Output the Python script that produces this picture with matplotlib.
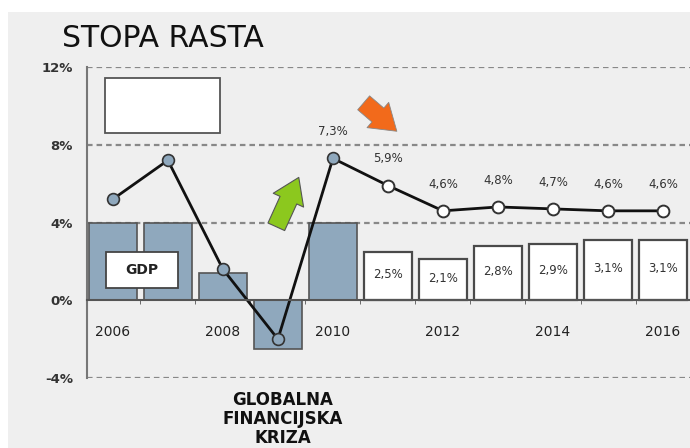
import matplotlib.pyplot as plt
from matplotlib.patches import Rectangle

# data
years = [2006, 2007, 2008, 2009, 2010, 2011, 2012, 2013, 2014, 2015, 2016]
gdp_growth = [4.0, 4.0, 1.4, -2.5, 3.95, 2.5, 2.1, 2.8, 2.9, 3.1, 3.1]
gdp_labels = ["", "", "", "", "", "2,5%", "2,1%", "2,8%", "2,9%", "3,1%", "3,1%"]
line_vals = [5.2, 7.2, 1.6, -2.0, 7.3, 5.9, 4.6, 4.8, 4.7, 4.6, 4.6]
line_labels = ["", "", "", "", "7,3%", "5,9%", "4,6%", "4,8%", "4,7%", "4,6%", "4,6%"]
n_actual = 5  # 2006-2010 actual, rest forecast
x_ticks = [2006, 2008, 2010, 2012, 2014, 2016]
y_ticks = [-4, 0, 4, 8, 12]

bg = "#efefef"
blue = "#8fa8bd"

fig = plt.figure(figsize=(6.9, 4.48), dpi=100)
fig.patch.set_facecolor("white")
fig.patches.append(Rectangle((8 / 690, 0), 1, 1 - 12 / 448, transform=fig.transFigure,
                             facecolor=bg, edgecolor="none", zorder=-10))

ax = fig.add_axes([87 / 690, 70 / 448, 1 - 87 / 690, 311 / 448])
ax.set_facecolor("none")
ax.set_xlim(2005.53, 2016.49)
ax.set_ylim(-4, 12)

# dashed grid lines
for y in [12, 8, 4, -4]:
    ax.axhline(y, color="#888888", lw=1.6, ls=(0, (2.5, 1.8)), zorder=1)

# bars
for i, (yr, v) in enumerate(zip(years, gdp_growth)):
    if i < n_actual:
        ax.bar(yr, v, width=0.86, color=blue, edgecolor="#555555", linewidth=1.2, zorder=2)
    else:
        ax.bar(yr, v, width=0.86, color="white", edgecolor="#4a4a4a", linewidth=1.6, zorder=2)
        ax.text(yr, v * 0.53, gdp_labels[i], ha="center", va="center", fontsize=8.5,
                color="#333333", zorder=5)

# line
ax.plot(years, line_vals, color="#111111", lw=2, zorder=3)
ax.plot(years[:n_actual], line_vals[:n_actual], ls="none", marker="o", ms=8.5,
        mfc=blue, mec="#333333", mew=1.2, zorder=4)
ax.plot(years[n_actual:], line_vals[n_actual:], ls="none", marker="o", ms=8.5,
        mfc="white", mec="#333333", mew=1.4, zorder=4)
for yr, v, lab in zip(years, line_vals, line_labels):
    if lab:
        ax.text(yr, v + 1.38, lab, ha="center", va="center", fontsize=8.5, color="#333333")

# spines / axes
for s in ["top", "right"]:
    ax.spines[s].set_visible(False)
ax.spines["bottom"].set_position(("data", 0))
ax.spines["bottom"].set_color("#555555")
ax.spines["bottom"].set_linewidth(1.5)
ax.spines["bottom"].set_zorder(3)
ax.spines["left"].set_color("#777777")
ax.spines["left"].set_linewidth(1.5)

ax.set_xticks(x_ticks)
ax.set_xticklabels([str(t) for t in x_ticks], fontsize=10, color="#222222")
ax.tick_params(axis="x", length=0, pad=18)
ax.set_xticks([y + 0.5 for y in years[:-1]], minor=True)
ax.tick_params(axis="x", which="minor", length=3, direction="out", color="#555555")

ax.set_yticks(y_ticks)
ax.set_yticklabels([f"{t}%" for t in y_ticks], fontsize=9.5, fontweight="bold", color="#333333")
ax.tick_params(axis="y", length=0, pad=10)

# GDP label box and empty legend box
ax.add_patch(Rectangle((2005.87, 0.62), 1.31, 1.85, facecolor="white",
                       edgecolor="#444444", lw=1.3, zorder=6))
ax.text(2006.52, 1.55, "GDP", ha="center", va="center", fontsize=10,
        fontweight="bold", color="#222222", zorder=7)
ax.add_patch(Rectangle((2005.85, 8.61), 2.1, 2.83, facecolor="white",
                       edgecolor="#555555", lw=1.3, zorder=6))

# arrows
ax.annotate("", xy=(2009.4, 6.45), xytext=(2008.95, 3.65),
            arrowprops=dict(arrowstyle="simple,head_length=0.75,head_width=1.0,tail_width=0.55",
                            fc="#8cc81e", ec="#555555", lw=0.8, mutation_scale=24), zorder=6)
ax.annotate("", xy=(2011.2, 8.6), xytext=(2010.52, 10.25),
            arrowprops=dict(arrowstyle="simple,head_length=0.75,head_width=1.0,tail_width=0.55",
                            fc="#f26a1b", ec="#888888", lw=0.6, mutation_scale=24), zorder=6)

# titles
fig.text(62 / 690, 1 - 47 / 448, "STOPA RASTA", fontsize=21.5, color="#111111",
         ha="left", va="baseline")
fig.text(283 / 690, 1 - 419 / 448, "GLOBALNA\nFINANCIJSKA\nKRIZA", fontsize=12,
         fontweight="bold", color="#111111", ha="center", va="center", linespacing=1.1)

fig.savefig("out.png", dpi=100, facecolor=fig.get_facecolor())
